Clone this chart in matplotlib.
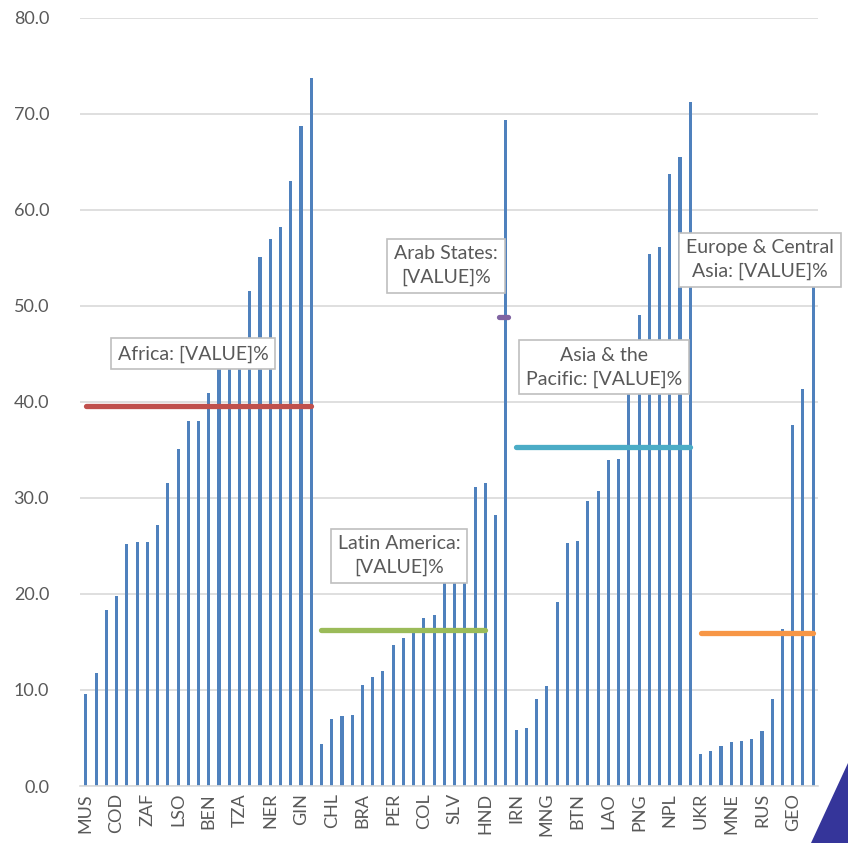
import numpy as np
import matplotlib.pyplot as plt
from matplotlib.patches import Polygon

plt.rcParams['font.family'] = ['Lato', 'DejaVu Sans']

# bar values by region
africa = [9.6, 11.8, 18.3, 19.8, 25.2, 25.4, 25.4, 27.2, 31.5, 35.1, 38.0, 38.0,
          40.9, 44.0, 45.0, 46.0, 51.5, 55.1, 57.0, 58.2, 63.0, 68.7, 73.7]
latin = [4.4, 7.0, 7.3, 7.4, 10.5, 11.4, 12.0, 14.7, 15.4, 16.0, 17.5, 17.8,
         21.5, 22.5, 24.0, 31.1, 31.5, 28.2]
arab = [69.3]
asia = [5.8, 6.0, 9.1, 10.4, 19.2, 25.3, 25.5, 29.7, 30.7, 33.9, 34.1, 42.0,
        49.0, 55.4, 56.1, 63.7, 65.5, 71.2]
europe = [3.3, 3.6, 4.2, 4.6, 4.7, 4.9, 5.7, 9.1, 16.3, 37.6, 41.3, 55.0]

# only every third country gets a label
tick_labels = ['MUS', 'COD', 'ZAF', 'LSO', 'BEN', 'TZA', 'NER', 'GIN',
               'CHL', 'BRA', 'PER', 'COL', 'SLV', 'HND', 'IRN', 'MNG',
               'BTN', 'LAO', 'PNG', 'NPL', 'UKR', 'MNE', 'RUS', 'GEO']

# regional averages
avg_africa = 39.6
avg_latin = 16.2
avg_arab = 48.8
avg_asia = 35.3
avg_europe = 15.9

values = africa + latin + arab + asia + europe
x = np.arange(len(values))

n_af = len(africa)
n_la = len(latin)
n_ar = len(arab)
n_as = len(asia)
s_la = n_af
s_ar = s_la + n_la
s_as = s_ar + n_ar
s_eu = s_as + n_as

fig = plt.figure(figsize=(8.48, 8.43), dpi=100)
ax = fig.add_axes([0.094, 0.0676, 0.871, 0.9114])

ax.bar(x, values, width=0.3, color='#4f81bd', zorder=2)

ax.set_ylim(0, 80)
ax.set_xlim(-0.6, 71.5)
ax.set_yticks(np.arange(0, 81, 10))
ax.set_yticklabels(['%.1f' % v for v in np.arange(0, 81, 10)])
ax.set_xticks(np.arange(0, len(values), 3))
ax.set_xticklabels(tick_labels, rotation=90)
ax.grid(axis='y', color='#d9d9d9', lw=1.2, zorder=0)
ax.set_axisbelow(True)
for s in ['top', 'right', 'left']:
    ax.spines[s].set_visible(False)
ax.spines['bottom'].set_color('#d9d9d9')
ax.spines['bottom'].set_linewidth(1.2)
ax.tick_params(axis='both', length=0, labelsize=13, colors='#595959')
ax.tick_params(axis='y', pad=22)
ax.tick_params(axis='x', pad=5)

lkw = dict(lw=3.8, solid_capstyle='round', zorder=3)
ax.plot([0, n_af - 1], [avg_africa] * 2, color='#c0504d', **lkw)
ax.plot([s_la, s_ar - 2], [avg_latin] * 2, color='#9bbb59', **lkw)
ax.plot([s_ar - 0.7, s_ar + 0.2], [avg_arab] * 2, color='#8064a2', **lkw)
ax.plot([s_as, s_eu - 1], [avg_asia] * 2, color='#4bacc6', **lkw)
ax.plot([s_eu, len(values) - 1], [avg_europe] * 2, color='#f79646', **lkw)

bkw = dict(ha='center', va='center', fontsize=14, color='#595959', zorder=5,
           linespacing=1.45,
           bbox=dict(boxstyle='square,pad=0.35', fc='white', ec='#bfbfbf', lw=1.2))
ax.text(10.45, 45.0, 'Africa: [VALUE]%', **bkw)
ax.text(30.6, 24.0, 'Latin America:\n[VALUE]%', **bkw)
ax.text(35.15, 54.2, 'Arab States:\n[VALUE]%', **bkw)
ax.text(50.6, 43.6, 'Asia & the\nPacific: [VALUE]%', **bkw)
ax.text(65.8, 54.8, 'Europe & Central\nAsia: [VALUE]%', **bkw)

# dark corner shape bottom right
W, H = 848, 843
corner = Polygon([(811 / W, 0), (1, (H - 763) / H), (1, 0)], closed=True,
                 transform=fig.transFigure, fc='#35359a', ec='none')
fig.patches.append(corner)

fig.savefig('out.png', dpi=100)
